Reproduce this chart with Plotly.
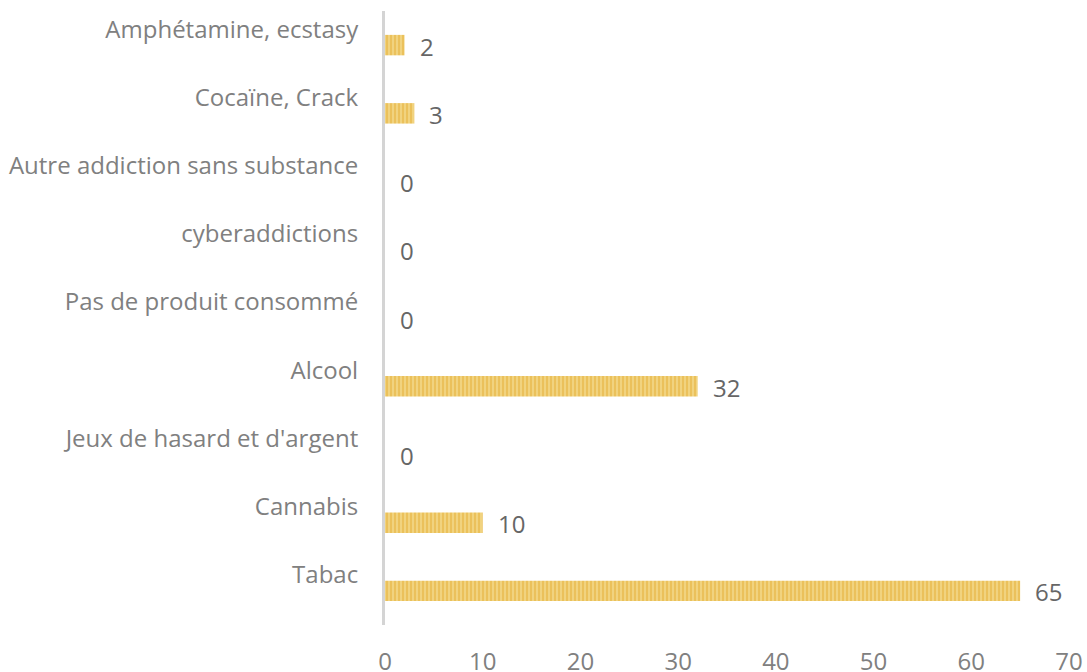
import plotly.graph_objects as go

categories = ["Tabac", "Cannabis", "Jeux de hasard et d'argent", "Alcool",
              "Pas de produit consommé", "cyberaddictions",
              "Autre addiction sans substance", "Cocaïne, Crack",
              "Amphétamine, ecstasy"]
values = [65, 10, 0, 32, 0, 0, 0, 3, 2]
x_ticks = [0, 10, 20, 30, 40, 50, 60, 70]

fig = go.Figure()
fig.add_trace(go.Bar(
    x=values, y=categories, orientation="h",
    marker=dict(color="#F0CF74", line=dict(width=0),
                pattern=dict(shape="|", fgcolor="#E4AC2E", bgcolor="#F3D788",
                             size=4, solidity=0.6)),
    width=0.3, hoverinfo="skip",
))

for v, c in zip(values, categories):
    fig.add_annotation(x=v, y=c, text=str(v), showarrow=False,
                       xanchor="left", xshift=13, yshift=-1,
                       font=dict(family="Open Sans", size=24, color="#666666"))

fig.update_layout(
    width=1087, height=672,
    margin=dict(l=385, r=18, t=11, b=47, autoexpand=False),
    plot_bgcolor="white", paper_bgcolor="white",
    showlegend=False,
    font=dict(family="Open Sans", size=24, color="#808080"),
)
fig.update_xaxes(range=[0, 70], tickvals=x_ticks, showgrid=False, zeroline=False,
                 showline=False, ticks="", ticklabelstandoff=20, automargin=False,
                 tickfont=dict(family="Open Sans", size=24, color="#808080"))
fig.update_yaxes(categoryorder="array", categoryarray=categories,
                 showgrid=False, zeroline=False, showline=True,
                 linecolor="#D4D4D4", linewidth=3, ticks="", automargin=False,
                 ticklabelshift=-16, ticklabelstandoff=19,
                 tickfont=dict(family="Open Sans", size=24, color="#808080"))

fig.write_html("out.html", config={"displayModeBar": False},
               post_script="document.body.style.margin='0';")
